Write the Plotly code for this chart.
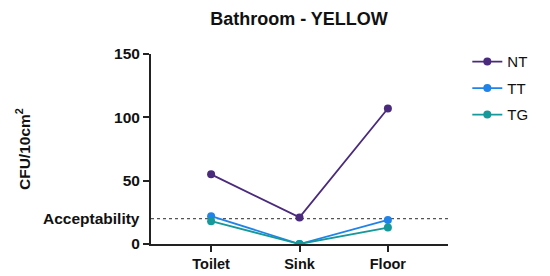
import plotly.graph_objects as go

categories = ["Toilet", "Sink", "Floor"]
nt_values = [55, 21, 107]
tt_values = [22, 0, 19]
tg_values = [18, 0, 13]
acceptability = 20
y_ticks = [0, 50, 100, 150]

series = [
    ("NT", nt_values, "#4a2a7c"),
    ("TT", tt_values, "#1f83ea"),
    ("TG", tg_values, "#15999a"),
]

FONT = "Liberation Sans"

fig = go.Figure()
for name, vals, color in series:
    fig.add_trace(go.Scatter(
        x=list(range(len(categories))), y=vals, name=name, mode="lines+markers",
        legendgroup=name,
        line=dict(color=color, width=1.8),
        marker=dict(color=color, size=8),
    ))

fig.add_shape(type="line", xref="paper", x0=0, x1=1, yref="y", y0=acceptability, y1=acceptability,
              line=dict(color="#555555", width=1.3, dash="dot"), layer="below")
fig.add_annotation(xref="paper", x=0, yref="y", y=acceptability, text="<b>Acceptability</b>",
                   showarrow=False, xanchor="right", xshift=-9,
                   font=dict(family=FONT, size=15.5, color="#111111"))
fig.add_annotation(xref="paper", x=(15 - 143) / 297, yref="paper", y=0.5, text="<b>CFU/10cm<sup>2</sup></b>",
                   showarrow=False, textangle=-90, xanchor="center", yanchor="middle",
                   font=dict(family=FONT, size=15.5, color="#111111"))

fig.update_layout(
    width=550, height=276,
    margin=dict(l=143, r=110, t=46, b=33),
    paper_bgcolor="white", plot_bgcolor="white",
    font=dict(family=FONT, color="#111111"),
    title=dict(text="<b>Bathroom - YELLOW</b>", x=291/550, xanchor="center",
               yref="container", y=1 - 4/276, yanchor="top",
               font=dict(family=FONT, size=18, color="#111111")),
    showlegend=True,
    legend=dict(x=1.065, y=1 + 9 / 197, xanchor="left", yanchor="top",
                font=dict(family=FONT, size=15),
                bgcolor="rgba(0,0,0,0)", tracegroupgap=4),
    xaxis=dict(range=[-0.68, 2.68], tickvals=list(range(len(categories))), ticktext=[f"<b>{c}</b>" for c in categories],
               showline=True, linecolor="#222222", linewidth=2, ticks="outside", ticklen=6,
               tickwidth=2, tickcolor="#222222", showgrid=False, zeroline=False,
               tickfont=dict(family=FONT, size=14.5)),
    yaxis=dict(range=[0, 150], tickvals=y_ticks, ticktext=[f"<b>{v}</b>" for v in y_ticks],
               showline=True, linecolor="#222222", linewidth=2, ticks="outside", ticklen=6,
               tickwidth=2, tickcolor="#222222", showgrid=False, zeroline=False,
               tickfont=dict(family=FONT, size=15.5)),
)

fig.write_html("out.html")
